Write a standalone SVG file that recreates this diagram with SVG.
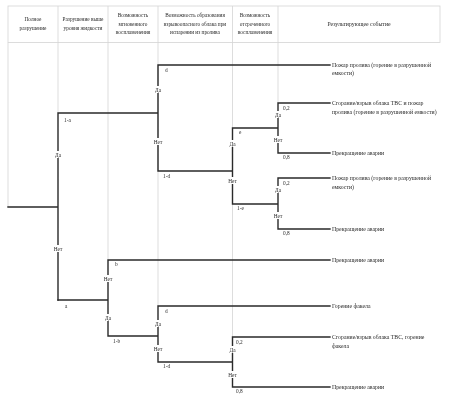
<svg xmlns="http://www.w3.org/2000/svg" width="452" height="402" viewBox="0 0 452 402">
<defs>
<filter id="gs" x="0" y="0" width="1" height="1"><feColorMatrix type="saturate" values="0"/></filter>
</defs>
<style>
text{font-family:"Liberation Serif","Times New Roman",serif;fill:#2a2a2a}
.h{font-size:5.3px;text-anchor:middle}
.r{font-size:5.8px}
.l{font-size:5.3px}
.c{text-anchor:middle}
.g{stroke:#d4d4d4;stroke-width:0.8;fill:none}
.t{stroke:#2a2a2a;stroke-width:1.4;fill:none;stroke-linecap:square}
.gap{fill:#fff}
</style>
<g filter="url(#gs)">
<rect width="452" height="402" fill="#fff"/>
<g id="header">
<rect class="g" x="8" y="6" width="432" height="36.5"/>
<path class="g" d="M58 6V42.5M108 6V42.5M158 6V42.5M232.5 6V42.5M278 6V42.5"/>
<text class="h" x="33" y="21">Полное</text>
<text class="h" x="33" y="30">разрушение</text>
<text class="h" x="83" y="21">Разрушение выше</text>
<text class="h" x="83" y="30">уровня жидкости</text>
<text class="h" x="133" y="17">Возможность</text>
<text class="h" x="133" y="25.5">мгновенного</text>
<text class="h" x="133" y="34">воспламенения</text>
<text class="h" x="195" y="17">Возможность образования</text>
<text class="h" x="195" y="25.5">взрывоопасного облака при</text>
<text class="h" x="195" y="34">испарении из пролива</text>
<text class="h" x="255" y="17">Возможность</text>
<text class="h" x="255" y="25.5">отсроченного</text>
<text class="h" x="255" y="34">воспламенения</text>
<text class="h" x="359" y="26" style="font-size:5.8px">Результирующее событие</text>
</g>
<g id="gridlines">
<path class="g" d="M8 42.5V207M58 42.5V113M108 42.5V260M158 42.5V306M232.5 42.5V337M278 42.5V103"/>
</g>
<g id="connectors">
<path class="t" d="M8 207H58M58 113V300M58 113H158M158 65V171M158 65H330M158 171H232.5M232.5 128V204M232.5 128H278M278 103V153M278 103H330M278 153H330M232.5 204H278M278 178V229M278 178H330M278 229H330"/>
<path class="t" d="M58 300H108M108 260V336M108 260H330M108 336H158M158 306V362M158 306H330M158 362H232.5M232.5 337V387M232.5 337H330M232.5 387H330"/>
</g>
<g id="gaps">
<rect class="gap" x="54" y="151" width="8" height="7"/>
<rect class="gap" x="53" y="245" width="10" height="7"/>
<rect class="gap" x="154" y="86" width="8" height="7"/>
<rect class="gap" x="153" y="138" width="10" height="7"/>
<rect class="gap" x="228.5" y="140" width="8" height="7"/>
<rect class="gap" x="227.5" y="177" width="10" height="7"/>
<rect class="gap" x="274" y="111" width="8" height="7"/>
<rect class="gap" x="273" y="136" width="10" height="7"/>
<rect class="gap" x="274" y="186" width="8" height="7"/>
<rect class="gap" x="273" y="212" width="10" height="7"/>
<rect class="gap" x="103" y="275" width="10" height="7"/>
<rect class="gap" x="104" y="314" width="8" height="7"/>
<rect class="gap" x="154" y="320" width="8" height="7"/>
<rect class="gap" x="153" y="345" width="10" height="7"/>
<rect class="gap" x="228.5" y="346" width="8" height="7"/>
<rect class="gap" x="227.5" y="371" width="10" height="7"/>
</g>
<g id="labels">
<text class="l c" x="58" y="157">Да</text>
<text class="l" x="64" y="122">1-a</text>
<text class="l c" x="58" y="251">Нет</text>
<text class="l" x="65" y="308">a</text>
<text class="l c" x="158" y="92">Да</text>
<text class="l" x="165" y="72">d</text>
<text class="l c" x="158" y="144">Нет</text>
<text class="l" x="163" y="178">1-d</text>
<text class="l c" x="232.5" y="146">Да</text>
<text class="l" x="239" y="134">e</text>
<text class="l c" x="232.5" y="183">Нет</text>
<text class="l" x="237" y="210">1-e</text>
<text class="l c" x="278" y="117">Да</text>
<text class="l" x="283" y="110">0,2</text>
<text class="l c" x="278" y="142">Нет</text>
<text class="l" x="283" y="159">0,8</text>
<text class="l c" x="278" y="192">Да</text>
<text class="l" x="283" y="185">0,2</text>
<text class="l c" x="278" y="218">Нет</text>
<text class="l" x="283" y="235">0,8</text>
<text class="l" x="115" y="266">b</text>
<text class="l c" x="108" y="281">Нет</text>
<text class="l c" x="108" y="320">Да</text>
<text class="l" x="113" y="343">1-b</text>
<text class="l" x="165" y="313">d</text>
<text class="l c" x="158" y="326">Да</text>
<text class="l c" x="158" y="351">Нет</text>
<text class="l" x="163" y="368">1-d</text>
<text class="l" x="236" y="344">0,2</text>
<text class="l c" x="232.5" y="352">Да</text>
<text class="l c" x="232.5" y="377">Нет</text>
<text class="l" x="236" y="393">0,8</text>
</g>
<g id="results">
<text class="r" x="332" y="67">Пожар пролива (горение в разрушенной</text>
<text class="r" x="332" y="75">емкости)</text>
<text class="r" x="332" y="105">Сгорание/взрыв облака ТВС и пожар</text>
<text class="r" x="332" y="113.5">пролива (горение в разрушенной емкости)</text>
<text class="r" x="332" y="155">Прекращение аварии</text>
<text class="r" x="332" y="180">Пожар пролива (горение в разрушенной</text>
<text class="r" x="332" y="188.5">емкости)</text>
<text class="r" x="332" y="231">Прекращение аварии</text>
<text class="r" x="332" y="262">Прекращение аварии</text>
<text class="r" x="332" y="308">Горение факела</text>
<text class="r" x="332" y="339">Сгорание/взрыв облака ТВС, горение</text>
<text class="r" x="332" y="347.5">факела</text>
<text class="r" x="332" y="389">Прекращение аварии</text>
</g>
</g>
</svg>
